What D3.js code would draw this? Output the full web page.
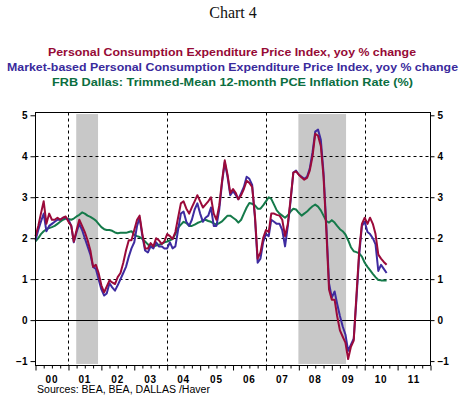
<!DOCTYPE html>
<html><head><meta charset="utf-8">
<script src="https://cdn.jsdelivr.net/npm/d3@7"></script>
<style>body{margin:0;background:#fff}svg{display:block}</style>
</head><body><svg id="c" width="467" height="397"></svg>
<script>
// ---------- data ----------
const startYear = 2000;
const yearLabels = ["00","01","02","03","04","05","06","07","08","09","10","11"];
const yTicks = [-1,0,1,2,3,4,5];
const gridYears = [2001,2004,2007,2010];
const gridValues = [1,2,3,4];
// monthly, Jan 2000 onward
const pce = [
 2.05,2.3,2.6,2.9,2.35,2.6,2.45,2.45,2.5,2.45,2.5,2.53,
 2.4,2.3,1.92,2.2,2.45,2.3,2.15,1.95,1.7,1.3,1.35,1.15,
 0.85,0.68,0.82,0.97,0.92,0.88,1.05,1.15,1.4,1.7,1.95,1.95,
 2.2,2.45,2.55,2.1,1.75,1.75,1.88,1.8,2.0,1.95,1.86,1.92,
 2.1,2.05,1.98,2.15,2.5,2.85,2.9,2.72,2.6,2.75,2.9,3.05,
 2.9,2.75,2.82,2.9,3.0,2.6,2.45,2.8,3.4,3.9,3.55,3.1,
 3.2,3.1,2.95,3.05,3.2,3.4,3.35,3.25,2.55,1.5,1.65,2.0,
 2.2,2.15,2.6,2.6,2.57,2.55,2.45,2.05,2.35,2.95,3.6,3.63,
 3.55,3.48,3.43,3.47,3.65,4.0,4.55,4.5,4.25,3.5,2.2,0.75,
 0.5,0.5,0.1,-0.25,-0.4,-0.55,-0.95,-0.65,-0.5,0.6,1.7,2.35,
 2.5,2.35,2.5,2.35,2.1,1.6,1.5,1.42,1.35
];
const marketPce = [
 1.95,2.2,2.4,2.6,2.17,2.3,2.35,2.4,2.45,2.45,2.5,2.5,
 2.45,2.3,1.9,2.15,2.35,2.2,2.0,1.8,1.6,1.3,1.25,1.0,
 0.75,0.6,0.65,0.9,0.8,0.72,0.85,1.0,1.15,1.3,1.55,1.75,
 1.9,2.3,2.5,2.05,1.7,1.65,1.8,1.75,1.9,1.8,1.8,1.75,
 1.75,1.9,1.75,1.8,2.2,2.6,2.65,2.4,2.3,2.45,2.7,2.85,
 2.6,2.4,2.5,2.55,2.75,2.3,2.3,2.7,3.35,3.85,3.5,3.05,
 3.15,3.05,2.95,3.1,3.25,3.5,3.45,3.3,2.5,1.4,1.5,1.9,
 2.1,2.05,2.45,2.4,2.35,2.35,2.2,1.8,2.3,2.9,3.6,3.65,
 3.55,3.5,3.45,3.5,3.7,4.1,4.6,4.65,4.4,3.6,2.3,0.9,
 0.55,0.7,0.4,0.1,-0.15,-0.35,-0.75,-0.6,-0.45,0.5,1.6,2.3,
 2.4,2.15,2.1,2.0,1.85,1.2,1.35,1.25,1.15
];
const trimmedMean = [
 1.92,2.0,2.1,2.17,2.22,2.25,2.27,2.3,2.35,2.4,2.45,2.48,
 2.47,2.45,2.48,2.53,2.57,2.63,2.6,2.55,2.52,2.48,2.43,2.35,
 2.27,2.22,2.2,2.2,2.18,2.14,2.12,2.13,2.13,2.13,2.15,2.17,
 2.08,2.05,2.03,1.98,1.92,1.85,1.8,1.8,1.82,1.84,1.86,1.9,
 1.92,1.95,1.98,2.1,2.25,2.33,2.4,2.37,2.3,2.3,2.33,2.37,
 2.4,2.43,2.45,2.42,2.4,2.36,2.33,2.37,2.41,2.48,2.55,2.55,
 2.5,2.45,2.38,2.45,2.6,2.75,2.86,2.84,2.8,2.72,2.72,2.8,
 2.9,3.0,2.96,2.82,2.68,2.6,2.55,2.5,2.56,2.65,2.72,2.7,
 2.62,2.55,2.6,2.65,2.72,2.78,2.82,2.77,2.68,2.55,2.42,2.38,
 2.44,2.38,2.3,2.22,2.17,2.09,1.95,1.78,1.68,1.66,1.63,1.55,
 1.4,1.3,1.22,1.13,1.05,0.98,0.97,0.97,0.97
];
const recessions = [["2001-03-28","2001-11-25"],["2007-12-27","2009-06-08"]];
const legendLines = [
 "Personal Consumption Expenditure Price Index, yoy % change",
 "Market-based Personal Consumption Expenditure Price Index, yoy % change",
 "FRB Dallas: Trimmed-Mean 12-month PCE Inflation Rate (%)"
];
const titleText = "Chart 4";
const sourceText = "Sources:  BEA, BEA, DALLAS /Haver";

// ---------- styles ----------
const colRed = "#9b0a3a", colBlue = "#3e2ba0", colGreen = "#157a4a";
const legendCols = ["#960a36","#3a2a9c","#0b6e3f"];
const legendCfg = [{cx:232,y:56,w:368},{cx:232.5,y:71,w:451},{cx:232.5,y:86,w:361}];

const svg = d3.select("#c");
const parse = d3.timeParse("%Y-%m-%d");
const x = d3.scaleTime().domain([new Date(2000,0,1), new Date(2012,0,1)]).range([35.5,430.5]);
const y = d3.scaleLinear().domain([-1.12,5.056]).range([366,113]);
const L = 35.5, R = 430.5, T = 112.5, B = 365.5;

const toPts = arr => arr.map((v,i)=>({d:new Date(startYear, i, 1), v}));

// title
svg.append("text").attr("x",233).attr("y",18).attr("text-anchor","middle")
 .attr("font-family","Liberation Serif, Times New Roman, serif").attr("font-size",16)
 .attr("fill","#111").text(titleText);

// legend
legendLines.forEach((t,i)=>{
  const c = legendCfg[i];
  svg.append("text").attr("x",c.cx).attr("y",c.y).attr("text-anchor","middle")
   .attr("font-family","Liberation Sans, Arial, sans-serif").attr("font-weight","bold")
   .attr("font-size",11.5).attr("fill",legendCols[i])
   .attr("textLength",c.w).attr("lengthAdjust","spacingAndGlyphs").text(t);
});

// recession shading
svg.append("g").selectAll("rect").data(recessions).join("rect")
 .attr("x",d=>x(parse(d[0]))).attr("width",d=>x(parse(d[1]))-x(parse(d[0])))
 .attr("y",y(5.03)).attr("height",y(-1.07)-y(5.03)).attr("fill","#c8c8c8");

// grid
const g = svg.append("g");
g.selectAll("line.h").data(gridValues).join("line").attr("class","h")
 .attr("x1",L).attr("x2",R).attr("y1",d=>Math.round(y(d))+0.5).attr("y2",d=>Math.round(y(d))+0.5)
 .attr("stroke","#000").attr("stroke-dasharray","3,3");
g.selectAll("line.v").data(gridYears).join("line").attr("class","v")
 .attr("x1",d=>Math.round(x(new Date(d,0,1)))+0.5).attr("x2",d=>Math.round(x(new Date(d,0,1)))+0.5)
 .attr("y1",T).attr("y2",B).attr("stroke","#000").attr("stroke-dasharray","3,3");
g.append("line").attr("x1",L).attr("x2",R).attr("y1",Math.round(y(0))+0.5).attr("y2",Math.round(y(0))+0.5)
 .attr("stroke","#000").attr("stroke-width",1.2);

// series
const line = d3.line().x(d=>x(d.d)).y(d=>y(d.v));
[[trimmedMean,colGreen],[marketPce,colBlue],[pce,colRed]].forEach(([arr,col])=>{
  svg.append("path").datum(toPts(arr)).attr("d",line).attr("fill","none")
   .attr("stroke",col).attr("stroke-width",2).attr("stroke-linejoin","round");
});

// frame
svg.append("rect").attr("x",L).attr("y",T).attr("width",R-L).attr("height",B-T)
 .attr("fill","none").attr("stroke","#000");

// axes
const fontF = "Liberation Sans, Arial, sans-serif";
const yl = svg.append("g").attr("transform",`translate(${L},0)`)
 .call(d3.axisLeft(y).tickValues(yTicks).tickSize(5).tickPadding(3).tickFormat(d3.format("d")));
const yr = svg.append("g").attr("transform",`translate(${R},0)`)
 .call(d3.axisRight(y).tickValues(yTicks).tickSize(4).tickPadding(3).tickFormat(d3.format("d")));
const yearTicks = d3.range(2000,2013).map(yy=>new Date(yy,0,1));
const qTicks = [];
d3.range(2000,2012).forEach(yy=>[3,6,9].forEach(mm=>qTicks.push(new Date(yy,mm,1))));
const xMaj = svg.append("g").attr("transform",`translate(0,${B})`)
 .call(d3.axisBottom(x).tickValues(yearTicks).tickSize(5).tickFormat(""));
const xMin = svg.append("g").attr("transform",`translate(0,${B})`)
 .call(d3.axisBottom(x).tickValues(qTicks).tickSize(3).tickFormat(""));
[yl,yr,xMaj,xMin].forEach(a=>{
  a.select(".domain").remove();
  a.selectAll("line").attr("stroke","#000");
  a.selectAll("text").attr("font-family",fontF).attr("font-weight","bold")
   .attr("font-size",10).attr("fill","#000");
});

// year labels
svg.append("g").selectAll("text").data(yearLabels).join("text")
 .attr("x",(d,i)=>x(new Date(startYear+i,6,1))).attr("y",383).attr("text-anchor","middle")
 .attr("font-family",fontF).attr("font-weight","bold").attr("font-size",10)
 .attr("letter-spacing",0.8).attr("fill","#000").text(d=>d);

// sources
svg.append("text").attr("x",37).attr("y",393).attr("font-family",fontF)
 .attr("font-size",10).attr("fill","#000").attr("textLength",173)
 .attr("lengthAdjust","spacingAndGlyphs").text(sourceText);
</script></body></html>
